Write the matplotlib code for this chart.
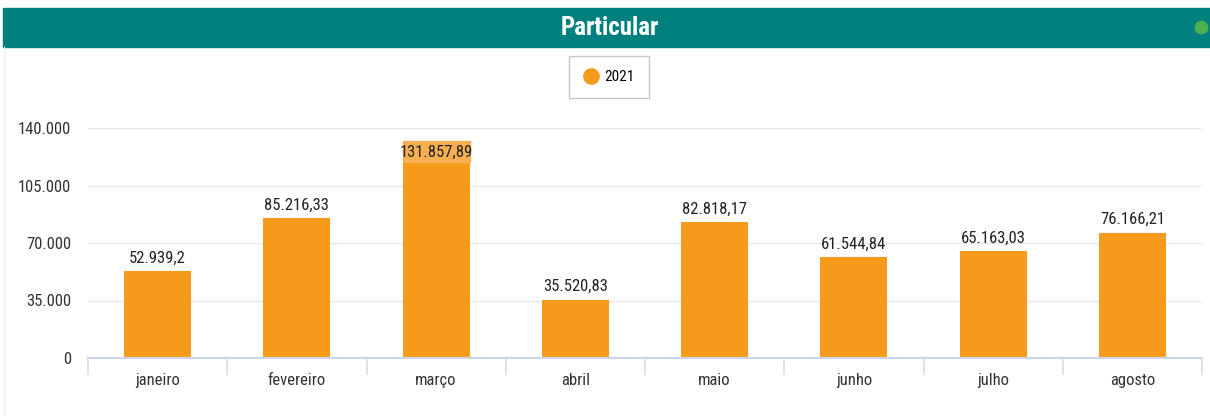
import matplotlib
matplotlib.use("Agg")
import matplotlib.pyplot as plt
from matplotlib import font_manager
from matplotlib.patches import Rectangle
from matplotlib.lines import Line2D
from matplotlib.ticker import FuncFormatter, FixedLocator

# dados
meses = ["janeiro", "fevereiro", "março", "abril", "maio", "junho", "julho", "agosto"]
valores = [52939.2, 85216.33, 131857.89, 35520.83, 82818.17, 61544.84, 65163.03, 76166.21]
serie = "2021"
titulo = "Particular"
y_ticks = [0, 35000, 70000, 105000, 140000]

# cores
teal = "#00807E"
laranja = "#F59A1B"
laranja_claro = "#F7AF52"

# fonte estreita se houver, senao Liberation Sans menor
disponiveis = {f.name for f in font_manager.fontManager.ttflist}
fonte, escala = "Liberation Sans", 0.8
for nome in ["Liberation Sans Narrow", "Roboto Condensed", "Open Sans Condensed"]:
    if nome in disponiveis:
        fonte, escala = nome, 1.0
        break
plt.rcParams["font.family"] = [fonte, "DejaVu Sans"]
fs = 12 * escala


def fmt_br(v, casas=2):
    s = f"{v:,.{casas}f}"
    s = s.replace(",", "X").replace(".", ",").replace("X", ".")
    if "," in s:
        s = s.rstrip("0").rstrip(",")
    return s


W, H = 1210, 419
fig = plt.figure(figsize=(W / 100, H / 100), dpi=100)

# faixa do titulo
fig.patches.append(Rectangle((3 / W, 1 - 47 / H), 1 - 3 / W, 39 / H,
                             transform=fig.transFigure, color=teal, zorder=0))
fig.text(610 / W, 1 - 28 / H, titulo, color="white", fontsize=18 * escala, fontweight="bold",
         ha="center", va="center")
fig.lines.append(Line2D([1201 / W], [1 - 27 / H], transform=fig.transFigure, marker="o",
                        markersize=9, color="#4CAF50", linestyle=""))
# borda leve do cartao
fig.lines.append(Line2D([4 / W, 4 / W], [1 - 47 / H, 4 / H], transform=fig.transFigure,
                        color="#EEEEEE", lw=1))

ax = fig.add_axes([88 / W, 1 - 358 / H, (1202 - 88) / W, (358 - 128) / H])
x = list(range(len(meses)))
largura = 0.48
ax.bar(x, valores, width=largura, color=laranja, zorder=2)

ax.set_xlim(-0.5, len(meses) - 0.5)
ax.set_ylim(0, y_ticks[-1])
ax.set_yticks(y_ticks)
ax.yaxis.set_major_formatter(FuncFormatter(lambda v, p: fmt_br(v, 0)))
ax.set_xticks(x)
ax.set_xticklabels(meses)
ax.xaxis.set_minor_locator(FixedLocator([i - 0.5 for i in range(len(meses) + 1)]))

ax.tick_params(axis="y", length=0, pad=12, labelsize=fs, labelcolor="#333333")
ax.tick_params(axis="x", which="major", length=0, pad=11, labelsize=fs, labelcolor="#333333")
ax.tick_params(axis="x", which="minor", length=12, width=1.2, color="#D5DDEB")

for s in ["top", "right", "left"]:
    ax.spines[s].set_visible(False)
ax.spines["bottom"].set_color("#CCD6EB")
ax.spines["bottom"].set_linewidth(1.5)
ax.spines["bottom"].set_zorder(3)
ax.grid(axis="y", color="#E9E9E9", lw=1, zorder=0)
ax.set_axisbelow(True)

# rotulos de dados
ymax = y_ticks[-1]
altura_caixa = ymax * 21 / 230
for i, v in zip(x, valores):
    if v + altura_caixa > ymax:
        ax.add_patch(Rectangle((i - largura / 2, v - altura_caixa), largura, altura_caixa,
                               color=laranja_claro, zorder=3, clip_on=False))
        ax.text(i, v - altura_caixa / 2, fmt_br(v), ha="center", va="center",
                fontsize=fs, color="#222222", zorder=4)
    else:
        ax.annotate(fmt_br(v), (i, v), xytext=(0, 4), textcoords="offset points",
                    ha="center", va="bottom", fontsize=fs, color="#222222")

# legenda
handle = Line2D([], [], marker="o", linestyle="", markersize=11, color=laranja)
leg = fig.legend([handle], [serie], loc="center", bbox_to_anchor=(609 / W, 1 - 77 / H),
                 frameon=True, fancybox=False, fontsize=11 * escala, handletextpad=0.4,
                 borderpad=0.9, handlelength=1.0)
leg.get_frame().set_edgecolor("#BBBBBB")
leg.get_frame().set_linewidth(1)

fig.savefig("out.png", dpi=100)
